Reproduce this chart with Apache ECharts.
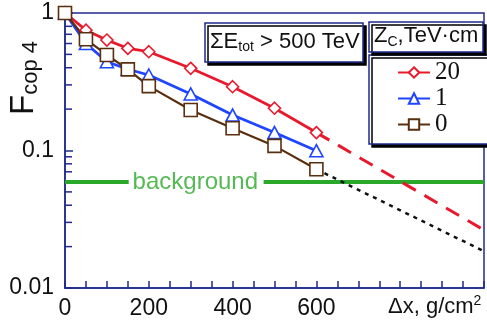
<!DOCTYPE html>
<html>
<head>
<meta charset="utf-8">
<script src="https://cdn.jsdelivr.net/npm/echarts@6/dist/echarts.min.js"></script>
<style>html,body{margin:0;padding:0;background:#fff}#c{width:487px;height:331px}</style>
</head>
<body>
<div id="c"></div>
<script>
// ---- data ----
const seriesNames = ['20', '1', '0'];
const depth = [0, 50, 100, 150, 200, 300, 400, 500, 600];
const fZ20 = [1, 0.75, 0.636, 0.553, 0.523, 0.396, 0.291, 0.203, 0.135];
const fZ1  = [1, 0.60, 0.442, 0.390, 0.354, 0.258, 0.181, 0.135, 0.0997];
const fZ0  = [1, 0.644, 0.495, 0.389, 0.294, 0.197, 0.145, 0.108, 0.073];
const extZ20X = [600, 1000];
const extZ20Y = [0.135, 0.0264];
const extZ0X = [600, 1000];
const extZ0Y = [0.073, 0.0185];
const backgroundLevel = 0.059;
const backgroundX = [0, 152, null, 474, 1000];
const backgroundLabelX = 311;
const xTickLabels = [0, 200, 400, 600];
const yTickLabels = [1, 0.1, 0.01];
const yMinorTicks = [0.02,0.03,0.04,0.05,0.06,0.07,0.08,0.09,0.2,0.3,0.4,0.5,0.6,0.7,0.8,0.9];

const NAVY = '#1f2a8c';
const RED = '#e8192c';
const BLUE = '#1f45ff';
const BROWN = '#5a2e0e';
const GREEN = '#2aa82a';
const FONT = '"Liberation Sans", Arial, sans-serif';
const SERIF = '"Liberation Serif", "Times New Roman", serif';

const pair = (xs, ys) => xs.map((x, i) => [x, ys[i]]);

const chart = echarts.init(document.getElementById('c'), null, {renderer: 'canvas'});
const markerStyle = c => ({color: '#fff', borderColor: c, borderWidth: 1.6});

const option = {
  animation: false,
  backgroundColor: '#fff',
  textStyle: {fontFamily: FONT},
  grid: {left: 65, top: 13, width: 428, height: 275, show: true, borderColor: NAVY, borderWidth: 1.5, backgroundColor: 'transparent'},
  title: [
    {
      text: '{a|ΣE}{s|tot}{a| > 500 TeV}',
      left: 205, top: 22,
      padding: [8, 4, 8, 5],
      backgroundColor: '#fff', borderColor: NAVY, borderWidth: 1.5,
      shadowColor: '#000', shadowOffsetX: 3, shadowOffsetY: 3, shadowBlur: 0,
      textStyle: {fontWeight: 'normal', rich: {
        a: {fontFamily: FONT, fontWeight: 'normal', fontSize: 22, color: '#111', lineHeight: 24},
        s: {fontFamily: FONT, fontWeight: 'normal', fontSize: 14, color: '#111', lineHeight: 14, verticalAlign: 'bottom'}
      }}
    },
    {
      text: '{a|Z}{s|C}{a|,TeV·cm}',
      left: 369, top: 20,
      padding: [3, 5, 3, 5],
      backgroundColor: '#fff', borderColor: NAVY, borderWidth: 1.5,
      shadowColor: '#000', shadowOffsetX: 3, shadowOffsetY: 3, shadowBlur: 0,
      textStyle: {fontWeight: 'normal', rich: {
        a: {fontFamily: FONT, fontWeight: 'normal', fontSize: 22, color: '#111', lineHeight: 26},
        s: {fontFamily: FONT, fontWeight: 'normal', fontSize: 14, color: '#111', lineHeight: 14, verticalAlign: 'bottom'}
      }}
    }
  ],
  legend: {
    data: seriesNames,
    orient: 'vertical',
    left: 369, top: 55,
    padding: [5, 28, 7, 28],
    itemWidth: 32, itemHeight: 13, itemGap: 1,
    backgroundColor: '#fff', borderColor: NAVY, borderWidth: 1.5,
    shadowColor: '#000', shadowOffsetX: 3, shadowOffsetY: 3, shadowBlur: 0,
    textStyle: {fontFamily: SERIF, fontSize: 25, color: '#111', lineHeight: 24}
  },
  xAxis: {
    type: 'value', min: 0, max: 1000, interval: 50,
    axisLine: {show: true, lineStyle: {color: NAVY, width: 1.5}},
    axisTick: {show: true, inside: true, length: 7, lineStyle: {color: NAVY, width: 1.5}},
    splitLine: {show: false},
    axisLabel: {
      fontFamily: FONT, fontSize: 23, color: '#111', margin: 9,
      formatter: v => xTickLabels.indexOf(v) >= 0 ? String(v) : ''
    }
  },
  yAxis: {
    type: 'log', logBase: 10, min: 0.01, max: 1,
    axisLine: {show: true, lineStyle: {color: NAVY, width: 1.5}},
    axisTick: {show: true, inside: true, length: 8, lineStyle: {color: NAVY, width: 1.5}},
    splitLine: {show: false},
    axisLabel: {
      fontFamily: FONT, fontSize: 23, color: '#111', margin: 11,
      formatter: v => {
        const m = yTickLabels.find(t => Math.abs(t - v) / t < 1e-6);
        return m === undefined ? '' : String(m);
      }
    }
  },
  graphic: [
    {
      type: 'text', x: 24, y: 78, rotation: Math.PI / 2,
      style: {
        text: '{f|F}{s|cop 4}',
        align: 'center', verticalAlign: 'middle',
        rich: {
          f: {fontFamily: FONT, fontSize: 33, fill: '#111', lineHeight: 36},
          s: {fontFamily: FONT, fontSize: 22, fill: '#111', lineHeight: 22, verticalAlign: 'bottom'}
        }
      }
    },
    {
      type: 'text', x: 388, y: 307,
      style: {
        text: '{a|Δx, g/cm}{p|2}',
        verticalAlign: 'middle',
        rich: {
          a: {fontFamily: FONT, fontSize: 22, fill: '#111', lineHeight: 26},
          p: {fontFamily: FONT, fontSize: 14, fill: '#111', lineHeight: 26, verticalAlign: 'top'}
        }
      }
    }
  ],
  series: [
    {
      type: 'custom', silent: true, clip: false, z: 3,
      data: yMinorTicks.map(v => [0, v]),
      renderItem: (params, api) => {
        const p = api.coord([0, api.value(1)]);
        return {type: 'line', shape: {x1: p[0], y1: p[1], x2: p[0] + 7, y2: p[1]},
                style: {stroke: NAVY, lineWidth: 1.5}};
      }
    },
    {
      type: 'line', data: backgroundX.map(x => x === null ? ['-', '-'] : [x, backgroundLevel]),
      showSymbol: false, connectNulls: false, silent: true,
      lineStyle: {color: GREEN, width: 4}
    },
    {
      type: 'scatter', data: [[backgroundLabelX, backgroundLevel]], symbolSize: 1, silent: true,
      itemStyle: {color: 'transparent'},
      label: {show: true, position: 'inside', formatter: 'background', fontFamily: FONT, fontSize: 24, color: GREEN}
    },
    {
      type: 'line', data: pair(extZ20X, extZ20Y), showSymbol: false, silent: true, clip: true,
      lineStyle: {color: RED, width: 3, type: [15, 10]}
    },
    {
      type: 'line', data: pair(extZ0X, extZ0Y), showSymbol: false, silent: true, clip: true,
      lineStyle: {color: '#111', width: 2.5, type: [4, 5]}
    },
    {
      name: '20', type: 'line', data: pair(depth, fZ20),
      symbol: 'diamond', symbolSize: [12, 12], showAllSymbol: true,
      lineStyle: {color: RED, width: 2.8}, itemStyle: markerStyle(RED), color: RED
    },
    {
      name: '1', type: 'line', data: pair(depth, fZ1),
      symbol: 'triangle', symbolSize: [13, 12], showAllSymbol: true,
      lineStyle: {color: BLUE, width: 2.8}, itemStyle: markerStyle(BLUE), color: BLUE
    },
    {
      name: '0', type: 'line', data: pair(depth, fZ0),
      symbol: 'rect', symbolSize: [13, 13], showAllSymbol: true,
      lineStyle: {color: BROWN, width: 2.2}, itemStyle: markerStyle(BROWN), color: BROWN
    }
  ]
};
chart.setOption(option);
</script>
</body>
</html>
